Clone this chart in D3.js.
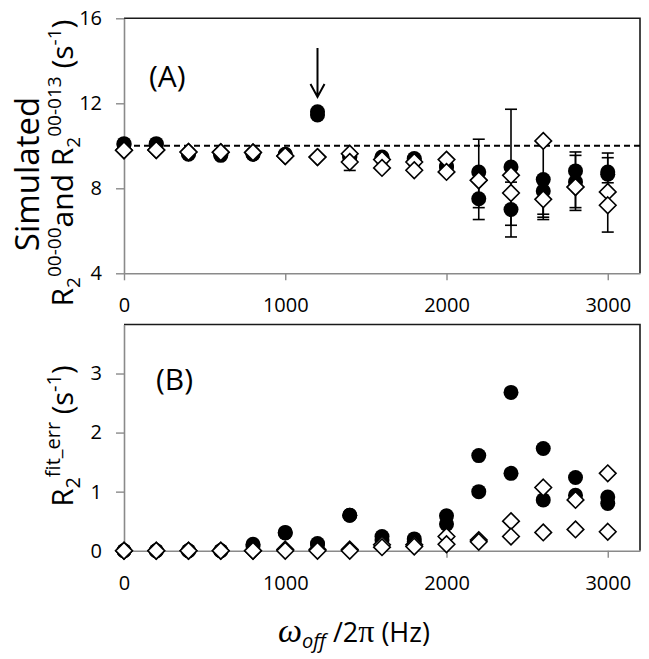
<!DOCTYPE html>
<html><head><meta charset="utf-8">
<script src="https://cdn.jsdelivr.net/npm/d3@7"></script>
<style>body{margin:0;background:#fff}svg{display:block}</style>
</head><body>
<svg id="c" width="649" height="659"></svg>
<script>
// ---------- DATA ----------
const offsets = [0,200,400,600,800,1000,1200,1400,1600,1800,2000,2200,2400,2600,2800,3000];
const xTicks = [0,1000,2000,3000];
const yTicksA = [4,8,12,16];
const yTicksB = [0,1,2,3];
const refR2 = 10;
const arrowAt = 1200;

// Panel A: simulated R2 (filled circles = R2^00-00, open diamonds = R2^00-013), two fits each
const aCircle1 = [10.1,10.1,9.65,9.6,9.62,9.6,11.6,9.5,9.47,9.4,9.0,8.77,9.0,8.41,8.82,8.77];
const aCircle2 = [10.05,10.05,9.6,9.55,9.6,9.58,11.45,9.45,9.4,9.3,9.05,7.51,7.0,7.87,8.3,8.66];
const aDiam1   = [9.79,9.8,9.71,9.7,9.69,9.52,9.47,9.63,9.35,9.24,9.35,8.38,8.61,10.23,8.06,7.83];
const aDiam2   = [9.79,9.8,9.71,9.7,9.69,9.52,9.47,9.24,8.96,8.85,8.77,8.38,7.78,7.48,8.06,7.2];
// error bars [minus, plus]
const aCircle1Err = [[0,0],[0,0],[0,0],[0,0],[0,0],[0,0],[0,0],[0,0],[0,0],[0,0],[0,0],[1.68,1.54],[2.74,2.72],[1.77,0],[1.73,0.89],[0.94,0.89]];
const aCircle2Err = [[0,0],[0,0],[0,0],[0,0],[0,0],[0,0],[0,0],[0,0],[0,0],[0,0],[0,0],[0.98,0.98],[1.29,1.29],[1.09,0],[1.34,1.25],[0.4,0.78]];
const aDiam1Err   = [[0,0],[0,0],[0,0],[0,0],[0,0],[0,0],[0,0],[0,0],[0,0],[0,0],[0,0],[0,0],[0,0],[3.7,0],[0,0],[0,0]];
const aDiam2Err   = [[0,0],[0,0],[0,0],[0,0],[0,0],[0,0],[0,0],[0.4,0.4],[0,0],[0,0],[0.1,0.1],[0,0],[0,0],[0,0],[0,0],[1.26,0]];

// Panel B: R2 fit error
const bCircle1 = [0,0,0,0,0.11,0.31,0.12,0.60,0.24,0.20,0.59,1.61,2.68,1.73,1.24,0.91];
const bCircle2 = [0,0,0,0,0.08,0.30,0.10,0.60,0.18,0.15,0.45,1.00,1.31,0.86,0.94,0.80];
const bDiam1   = [0,0,0,0,0,0.02,0.02,0.02,0.10,0.10,0.24,0.18,0.50,1.07,0.86,1.31];
const bDiam2   = [0,0,0,0,0,0,0,0,0.06,0.07,0.11,0.15,0.24,0.31,0.36,0.32];

// ---------- LAYOUT ----------
const svg = d3.select("#c");
const font = "'Open Sans', sans-serif";
const axisCol = "#8a8a8a";
const x = d3.scaleLinear().domain([0,3200]).range([124,640]);
const yA = d3.scaleLinear().domain([4,16]).range([273.3,18.3]);
const yB = d3.scaleLinear().domain([0,3.83]).range([550.7,324.5]);

function diamond(s){ return `M0,${-s}L${s},0L0,${s}L${-s},0Z`; }

function frame(y, yt, xt){
  const [y0,y1] = y.range();
  svg.append("path")
    .attr("d", `M${x.range()[0]},${y1}H${x.range()[1]}V${y0}`)
    .attr("fill","none").attr("stroke","#1a1a1a").attr("stroke-width",1.6);
  const gy = svg.append("g").attr("transform",`translate(${x.range()[0]},0)`)
    .call(d3.axisLeft(y).tickValues(yt).tickSize(8).tickSizeOuter(0).tickPadding(14).tickFormat(d3.format("d")));
  const gx = svg.append("g").attr("transform",`translate(0,${y0})`)
    .call(d3.axisBottom(x).tickValues(xt).tickSize(7).tickSizeOuter(0).tickPadding(18).tickFormat(d3.format("d")));
  [gy,gx].forEach(g=>{
    g.selectAll(".domain").attr("stroke",axisCol).attr("stroke-width",1.6);
    g.selectAll(".tick line").attr("stroke",axisCol).attr("stroke-width",1.4);
    g.selectAll("text").attr("font-family",font).attr("font-size",20).attr("fill","#000");
  });
}

function errorBars(y, vals, errs){
  const g = svg.append("g").attr("stroke","#000").attr("stroke-width",1.6);
  vals.forEach((v,i)=>{
    const [m,p] = errs[i];
    if(!m && !p) return;
    const cx = x(offsets[i]);
    g.append("line").attr("x1",cx).attr("x2",cx).attr("y1",y(v+p)).attr("y2",y(v-m));
    if(p) g.append("line").attr("x1",cx-6).attr("x2",cx+6).attr("y1",y(v+p)).attr("y2",y(v+p));
    if(m) g.append("line").attr("x1",cx-6).attr("x2",cx+6).attr("y1",y(v-m)).attr("y2",y(v-m));
  });
}
function circles(y, vals){
  svg.append("g").selectAll("circle").data(vals).join("circle")
    .attr("cx",(d,i)=>x(offsets[i])).attr("cy",d=>y(d)).attr("r",7.5).attr("fill","#000");
}
function diamonds(y, vals){
  svg.append("g").selectAll("path").data(vals).join("path")
    .attr("transform",(d,i)=>`translate(${x(offsets[i])},${y(d)})`)
    .attr("d",diamond(8.3)).attr("fill","#fff").attr("stroke","#000").attr("stroke-width",1.6);
}

// ---------- PANEL A ----------
frame(yA, yTicksA, xTicks);
svg.append("line").attr("x1",x.range()[0]).attr("x2",x.range()[1])
  .attr("y1",yA(refR2)).attr("y2",yA(refR2))
  .attr("stroke","#000").attr("stroke-width",2).attr("stroke-dasharray","6,4");
errorBars(yA,aCircle1,aCircle1Err); errorBars(yA,aCircle2,aCircle2Err);
errorBars(yA,aDiam1,aDiam1Err); errorBars(yA,aDiam2,aDiam2Err);
circles(yA,aCircle1); circles(yA,aCircle2);
diamonds(yA,aDiam1); diamonds(yA,aDiam2);
// arrow
const ax = x(arrowAt);
svg.append("path").attr("d",`M${ax},48V97M${ax-7},84L${ax},97L${ax+7},84`)
  .attr("fill","none").attr("stroke","#000").attr("stroke-width",2);
svg.append("text").attr("x",149).attr("y",87).attr("font-family",font).attr("font-size",30).text("(A)");

// ---------- PANEL B ----------
frame(yB, yTicksB, xTicks);
circles(yB,bCircle1); circles(yB,bCircle2);
diamonds(yB,bDiam1); diamonds(yB,bDiam2);
svg.append("text").attr("x",156).attr("y",390).attr("font-family",font).attr("font-size",30).text("(B)");

// ---------- TITLES ----------
svg.append("text").attr("transform","translate(39,174) rotate(-90)")
  .attr("text-anchor","middle").attr("font-family",font).attr("font-size",33).text("Simulated");
const t2 = svg.append("text").attr("transform","translate(73,163) rotate(-90)")
  .attr("text-anchor","middle").attr("font-family",font).attr("font-size",30);
t2.append("tspan").text("R");
t2.append("tspan").attr("font-size",19).attr("dy",7).text("2");
t2.append("tspan").attr("font-size",19).attr("dy",-19).text("00-00");
t2.append("tspan").attr("dy",12).text("and R");
t2.append("tspan").attr("font-size",19).attr("dy",7).text("2");
t2.append("tspan").attr("font-size",19).attr("dy",-19).text("00-013");
t2.append("tspan").attr("dy",12).text(" (s");
t2.append("tspan").attr("font-size",19).attr("dy",-12).text("-1");
t2.append("tspan").attr("dy",12).text(")");

const t3 = svg.append("text").attr("transform","translate(73,436) rotate(-90)")
  .attr("text-anchor","middle").attr("font-family",font).attr("font-size",29);
t3.append("tspan").text("R");
t3.append("tspan").attr("font-size",20).attr("dy",7).text("2");
t3.append("tspan").attr("font-size",20).attr("dy",-20).text("fit_err");
t3.append("tspan").attr("dy",13).text(" (s");
t3.append("tspan").attr("font-size",20).attr("dy",-12).text("-1");
t3.append("tspan").attr("dy",12).text(")");

const t4 = svg.append("text").attr("x",354).attr("y",642).attr("text-anchor","middle")
  .attr("font-family",font).attr("font-size",27);
t4.append("tspan").attr("font-family","'Liberation Serif', serif").attr("font-style","italic").attr("font-size",34).text("ω");
t4.append("tspan").attr("font-style","italic").attr("font-size",20).attr("dy",6).text("off");
t4.append("tspan").attr("dy",-6).text(" /2");
t4.append("tspan").attr("font-family","'Liberation Serif', serif").attr("font-size",32).text("π");
t4.append("tspan").text("  (Hz)");
</script>
</body></html>
